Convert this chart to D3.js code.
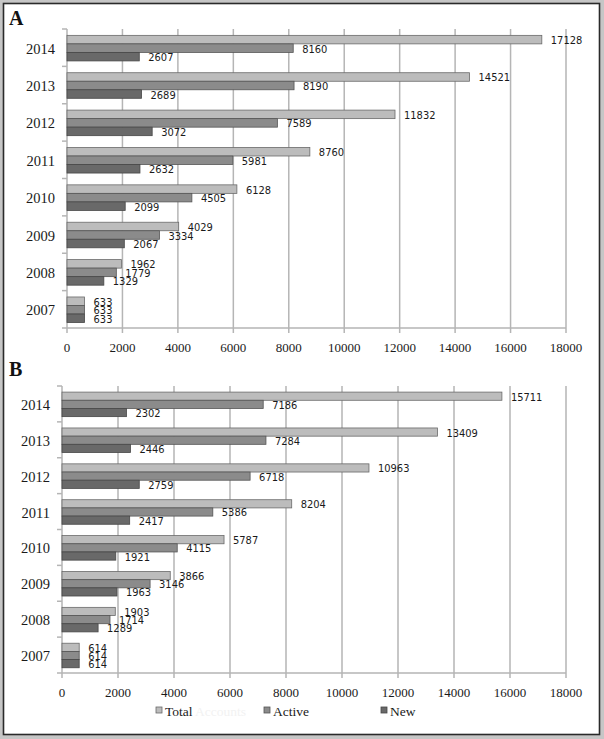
<!DOCTYPE html>
<html><head><meta charset="utf-8">
<script src="https://cdn.jsdelivr.net/npm/d3@7"></script>
<style>html,body{margin:0;padding:0;background:#c6c6c6;}</style>
</head><body>
<script>
const years = ["2007","2008","2009","2010","2011","2012","2013","2014"];
const seriesNames = ["Total","Active","New"];
const xTicks = [0,2000,4000,6000,8000,10000,12000,14000,16000,18000];
const totalA  = [633,1962,4029,6128,8760,11832,14521,17128];
const activeA = [633,1779,3334,4505,5981,7589,8190,8160];
const newA    = [633,1329,2067,2099,2632,3072,2689,2607];
const totalB  = [614,1903,3866,5787,8204,10963,13409,15711];
const activeB = [614,1714,3146,4115,5386,6718,7284,7186];
const newB    = [614,1289,1963,1921,2417,2759,2446,2302];

const W=604,H=739;
const fills=["#bcbcbc","#8b8b8b","#696969"];
const strokes=["#6a6a6a","#555","#474747"];
const svg=d3.select("body").append("svg").attr("width",W).attr("height",H);
svg.append("rect").attr("x",0).attr("y",0).attr("width",W).attr("height",H).attr("fill","#c6c6c6");
svg.append("rect").attr("x",3.5).attr("y",3.5).attr("width",596).attr("height",731)
  .attr("fill","#fff").attr("stroke","#2a2a2a").attr("stroke-width",1.6);

function panel(letter, letterY, x0, x1, yTop, yBot, tickLabelY, data){
  const x=d3.scaleLinear().domain([0,18000]).range([x0,x1]);
  const y=d3.scaleBand().domain(years.slice().reverse()).range([yTop,yBot]);
  const bw=y.bandwidth();
  const g=svg.append("g");
  g.append("text").attr("x",9).attr("y",letterY).text(letter)
    .attr("font-family","Liberation Serif").attr("font-weight","bold").attr("font-size",20).attr("fill","#111");
  xTicks.slice(1).forEach(t=>{
    g.append("line").attr("x1",x(t)).attr("x2",x(t)).attr("y1",yTop).attr("y2",yBot+5)
      .attr("stroke","#b5b5b5").attr("stroke-width",1.5);
  });
  g.append("line").attr("x1",x0).attr("x2",x0).attr("y1",yTop).attr("y2",yBot+5).attr("stroke","#b5b5b5").attr("stroke-width",1.5);
  g.append("line").attr("x1",x0).attr("x2",x1).attr("y1",yBot).attr("y2",yBot).attr("stroke","#b5b5b5").attr("stroke-width",1.5);
  for(let i=0;i<=years.length;i++){
    const yy=yTop+i*bw;
    g.append("line").attr("x1",x0-5).attr("x2",x0).attr("y1",yy).attr("y2",yy).attr("stroke","#b5b5b5").attr("stroke-width",1.5);
  }
  xTicks.forEach(t=>{
    g.append("text").attr("x",x(t)).attr("y",tickLabelY).attr("text-anchor","middle").attr("dominant-baseline","central")
      .attr("font-family","Liberation Serif").attr("font-size",13).attr("fill","#1a1a1a").text(t);
  });
  years.forEach(yr=>{
    g.append("text").attr("x",x0-12).attr("y",y(yr)+bw/2+1).attr("text-anchor","end").attr("dominant-baseline","central")
      .attr("font-family","Liberation Serif").attr("font-size",14.5).attr("fill","#1a1a1a").text(yr);
  });
  const bh=bw*0.228, off=bw*0.17;
  data.forEach((vals,s)=>{
    vals.forEach((v,i)=>{
      const yy=y(years[i])+off+s*bh;
      g.append("rect").attr("x",x0).attr("y",yy).attr("width",x(v)-x0).attr("height",bh)
        .attr("fill",fills[s]).attr("stroke",strokes[s]).attr("stroke-width",0.8);
      g.append("text").attr("x",x(v)+9).attr("y",yy+bh/2+1).attr("dominant-baseline","central")
        .attr("font-family","DejaVu Sans Condensed, DejaVu Sans").attr("font-stretch","condensed")
        .attr("font-size",11).attr("fill","#1a1a1a").text(v);
    });
  });
}
panel("A",25,67,566,29,328,347,[totalA,activeA,newA]);
panel("B",376,62,566,386,673,692,[totalB,activeB,newB]);

const legX=[156,264,381];
const legendText=["Total","Active","New"];
seriesNames.forEach((n,i)=>{
  svg.append("rect").attr("x",legX[i]).attr("y",707).attr("width",6).attr("height",6)
    .attr("fill",fills[i]).attr("stroke",strokes[i]).attr("stroke-width",0.8);
  svg.append("text").attr("x",legX[i]+9).attr("y",711).attr("dominant-baseline","central")
    .attr("font-family","Liberation Serif").attr("font-size",13.5).attr("fill","#1a1a1a").text(legendText[i]);
});
svg.append("text").attr("x",195).attr("y",711).attr("dominant-baseline","central")
  .attr("font-family","Liberation Serif").attr("font-size",13.5).attr("fill","#f2f2f2").text("Accounts");
</script>
</body></html>
